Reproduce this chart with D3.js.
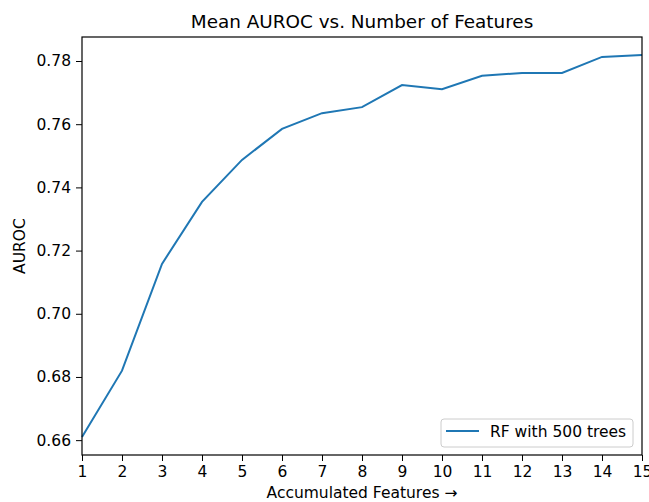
<!DOCTYPE html>
<html>
<head>
<meta charset="utf-8">
<script src="https://cdn.jsdelivr.net/npm/d3@7"></script>
<style>
  body { margin: 0; background: #fff; }
  text { font-family: "DejaVu Sans", sans-serif; fill: #000; }
</style>
</head>
<body>
<svg id="chart"></svg>
<script>
// number of accumulated features
var features = [1, 2, 3, 4, 5, 6, 7, 8, 9, 10, 11, 12, 13, 14, 15];
// mean AUROC, RF with 500 trees
var auroc = [0.661, 0.682, 0.7158, 0.7354, 0.7487, 0.7585, 0.7635, 0.7654, 0.7724, 0.7711, 0.7753, 0.7762, 0.7762, 0.7813, 0.7819];
var yTicks = [0.66, 0.68, 0.70, 0.72, 0.74, 0.76, 0.78];
var seriesName = "RF with 500 trees";

var width = 649, height = 502;
var margin = { top: 37, right: 7, bottom: 47, left: 82 };
var fs = "15.5px";

var svg = d3.select("#chart")
    .attr("width", width)
    .attr("height", height);

var x = d3.scaleLinear()
    .domain([1, 15])
    .range([margin.left, width - margin.right]);

var y = d3.scaleLinear()
    .domain([0.6553, 0.7876])
    .range([height - margin.bottom, margin.top]);

// title
svg.append("text")
    .attr("x", (margin.left + width - margin.right) / 2)
    .attr("y", 28)
    .attr("text-anchor", "middle")
    .style("font-size", "18.4px")
    .text("Mean AUROC vs. Number of Features");

// x axis
var xAxis = svg.append("g")
    .attr("transform", "translate(0," + (height - margin.bottom) + ")")
    .call(d3.axisBottom(x).tickValues(features).tickFormat(d3.format("d")).tickSize(6).tickPadding(5));

// y axis
var yAxis = svg.append("g")
    .attr("transform", "translate(" + margin.left + ",0)")
    .call(d3.axisLeft(y).tickValues(yTicks).tickFormat(d3.format(".2f")).tickSize(6).tickPadding(5));

[xAxis, yAxis].forEach(function (g) {
    g.select(".domain").remove();
    g.selectAll("text").style("font-size", fs);
    g.selectAll("line").attr("stroke", "#000");
});

// line
var line = d3.line()
    .x(function (d, i) { return x(features[i]); })
    .y(function (d) { return y(d); });

svg.append("path")
    .datum(auroc)
    .attr("fill", "none")
    .attr("stroke", "#1f77b4")
    .attr("stroke-width", 2)
    .attr("d", line);

// frame
svg.append("rect")
    .attr("x", margin.left)
    .attr("y", margin.top)
    .attr("width", width - margin.right - margin.left)
    .attr("height", height - margin.bottom - margin.top)
    .attr("fill", "none")
    .attr("stroke", "#000")
    .attr("stroke-width", 1.2);

// axis labels
svg.append("text")
    .attr("x", (margin.left + width - margin.right) / 2)
    .attr("y", 498)
    .attr("text-anchor", "middle")
    .style("font-size", fs)
    .text("Accumulated Features \u2192");

svg.append("text")
    .attr("transform", "translate(25," + ((margin.top + height - margin.bottom) / 2) + ") rotate(-90)")
    .attr("text-anchor", "middle")
    .style("font-size", fs)
    .text("AUROC");

// legend
var legend = svg.append("g").attr("transform", "translate(441,419)");
legend.append("rect")
    .attr("width", 192)
    .attr("height", 28)
    .attr("rx", 3)
    .attr("fill", "#fff")
    .attr("fill-opacity", 0.8)
    .attr("stroke", "#ccc");
legend.append("line")
    .attr("x1", 5).attr("x2", 38)
    .attr("y1", 12).attr("y2", 12)
    .attr("stroke", "#1f77b4")
    .attr("stroke-width", 2);
legend.append("text")
    .attr("x", 49)
    .attr("y", 17.5)
    .style("font-size", fs)
    .text(seriesName);
</script>
</body>
</html>
